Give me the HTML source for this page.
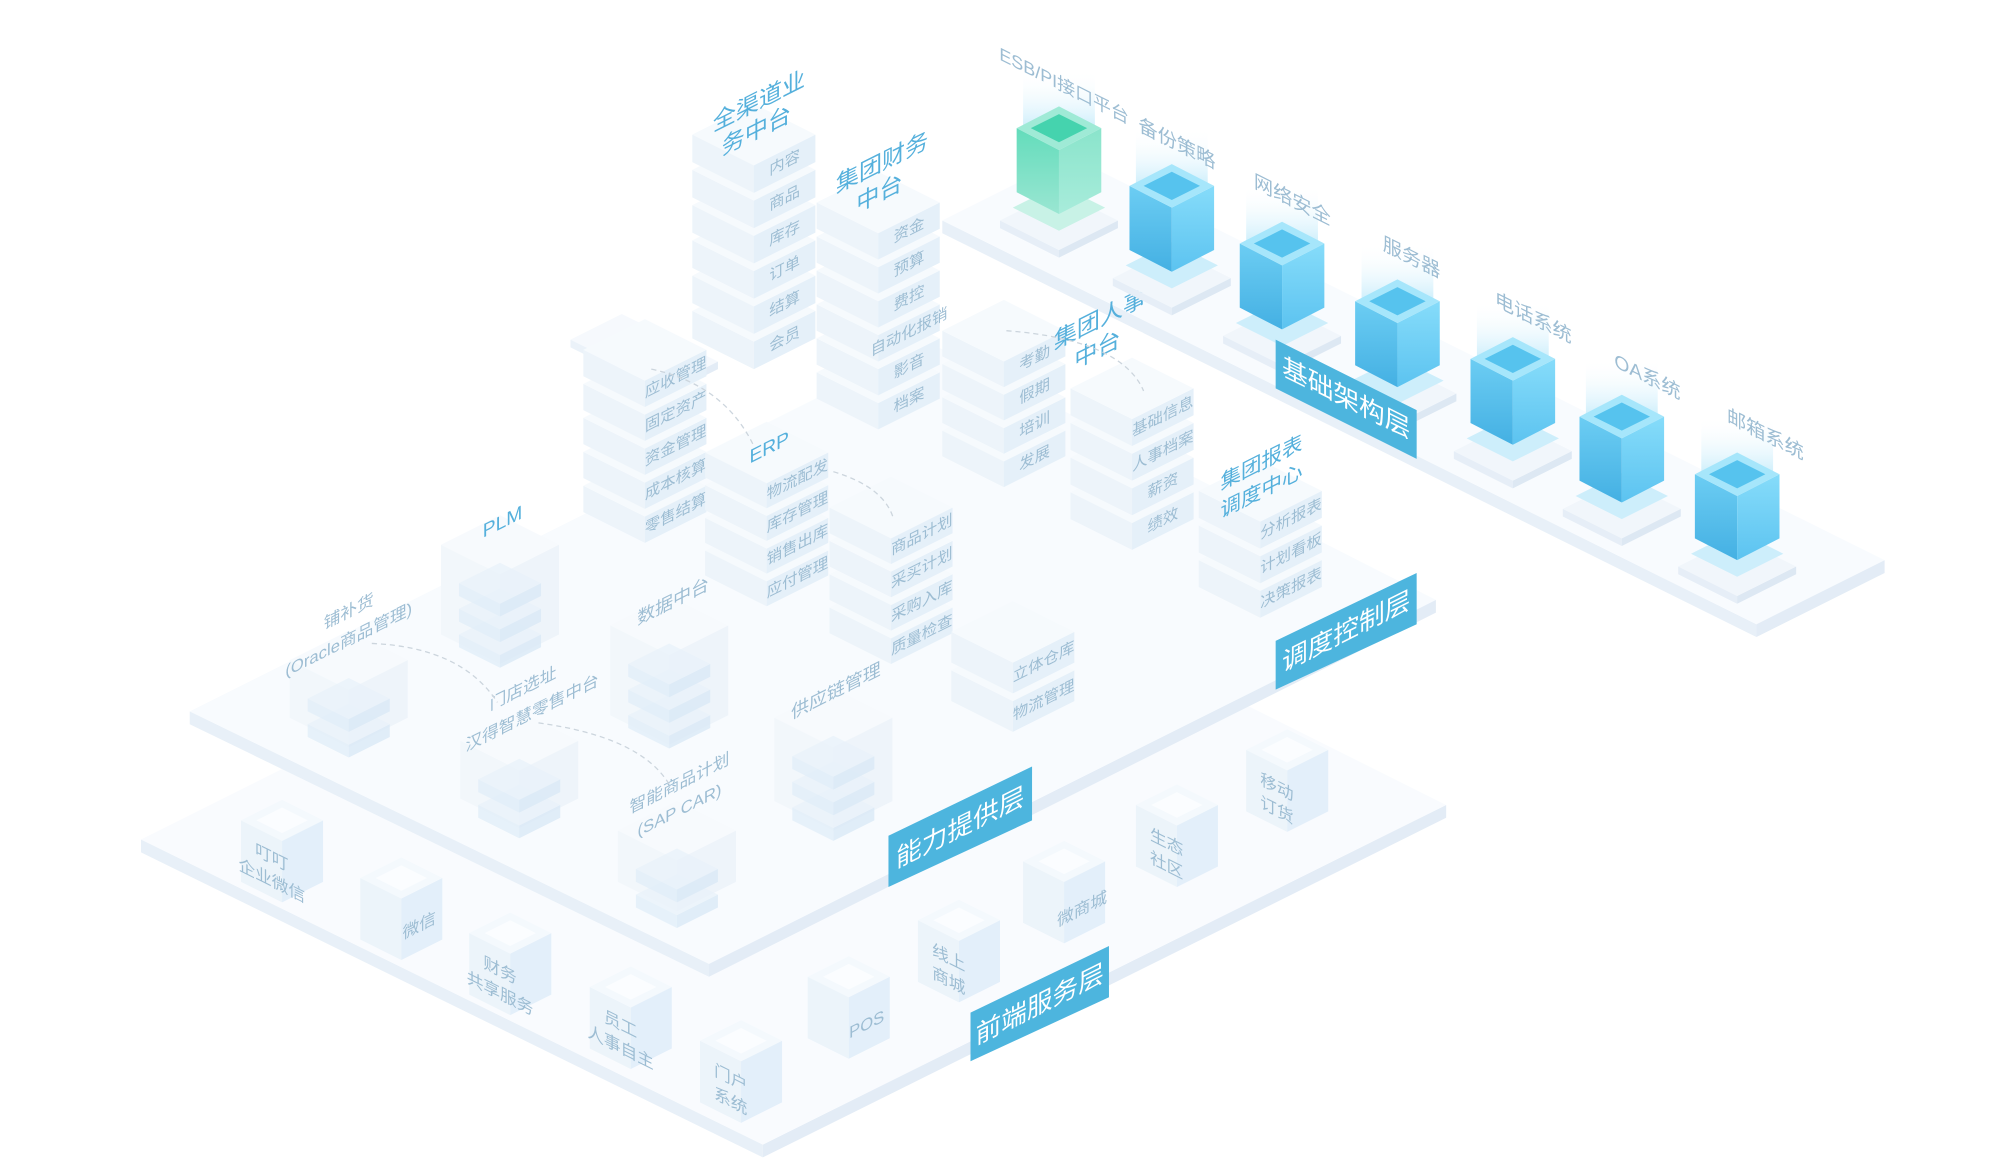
<!DOCTYPE html>
<html><head><meta charset="utf-8"><style>
html,body{margin:0;padding:0;background:#fff;width:2000px;height:1160px;overflow:hidden}
svg{display:block}
text{font-family:"Liberation Sans","Noto Sans CJK SC",sans-serif}
</style></head><body>
<svg id="s" width="2000" height="1160" viewBox="0 0 1560 905" preserveAspectRatio="none" xmlns="http://www.w3.org/2000/svg">
<defs>
<linearGradient id="bl" x1="0" y1="0" x2="0" y2="1"><stop offset="0" stop-color="#86dcfa"/><stop offset="1" stop-color="#5cc3f0"/></linearGradient>
<linearGradient id="br" x1="0" y1="0" x2="0" y2="1"><stop offset="0" stop-color="#6ccdf3"/><stop offset="1" stop-color="#44b0e3"/></linearGradient>
<linearGradient id="gl" x1="0" y1="0" x2="0" y2="1"><stop offset="0" stop-color="#63dcbb"/><stop offset="1" stop-color="#9ae6d2"/></linearGradient>
<linearGradient id="gr" x1="0" y1="0" x2="0" y2="1"><stop offset="0" stop-color="#8ae4cb"/><stop offset="1" stop-color="#a8ecdb"/></linearGradient>
<linearGradient id="glow" x1="0" y1="1" x2="0" y2="0"><stop offset="0" stop-color="#c6ecfb" stop-opacity="0.9"/><stop offset="1" stop-color="#fff" stop-opacity="0"/></linearGradient>
</defs>
<g id="g"></g>
</svg>
<script>
var G=document.getElementById('g'),NS='http://www.w3.org/2000/svg';
function el(t,a,txt){var e=document.createElementNS(NS,t);for(var k in a)e.setAttribute(k,a[k]);if(txt!=null)e.textContent=txt;G.appendChild(e);return e;}
function poly(p,f,o){el('polygon',{points:p.map(function(q){return q[0]+','+q[1]}).join(' '),fill:f,opacity:o==null?1:o});}
function box(cx,cy,hw,hh,h,top,l,r,o){
 poly([[cx-hw,cy],[cx,cy+hh],[cx,cy+hh+h],[cx-hw,cy+h]],l,o);
 poly([[cx,cy+hh],[cx+hw,cy],[cx+hw,cy+h],[cx,cy+hh+h]],r,o);
 poly([[cx-hw,cy],[cx,cy-hh],[cx+hw,cy],[cx,cy+hh]],top,o);
}
function txt(x,y,s,sk,size,col,w){el('text',{x:0,y:0,transform:'translate('+x+','+y+') skewY('+sk+')','text-anchor':'middle','dominant-baseline':'middle','font-size':size,fill:col,'font-weight':w||'normal'},s);}
function plat(L,B,R,T,th,top,edge){
 poly([L,B,[B[0],B[1]+th],[L[0],L[1]+th]],edge);
 poly([B,R,[R[0],R[1]+th],[B[0],B[1]+th]],'#e3ecf6');
 poly([L,B,R,T],top);
}
plat([110,655],[595,893],[1128,628],[646,387],10,'#f9fbfe','#e8f0f8');
plat([148,555],[553,752],[1120,468],[724,267],10,'#f8fbfe','#e8f0f8');
plat([735,172],[1370,487],[1470,437],[835,122],10,'#f8fbfe','#e8f0f8');
plat([445,265],[520,302],[560,282],[485,245],6,'#f6f9fd','#ebf2f9');

var TC='#9dbdd3',TT='#55b0dc';
var ST='#f6fafd',SL='#edf4fa',SR='#e5f0f9';
function stack(cx,y0,sp,labels){
 for(var i=labels.length-1;i>=0;i--){var y=y0+i*sp;box(cx,y,48,24,sp-6,ST,SL,SR);}
 for(var i=0;i<labels.length;i++){var y=y0+i*sp;txt(cx+24,y+12+(sp-6)/2,labels[i],-26.6,12,TC);}
}
stack(588,105,27.5,['内容','商品','库存','订单','结算','会员']);
txt(592,80,'全渠道业',-26.6,18,TT);txt(590,103,'务中台',-26.6,18,TT);
stack(685,158,26.5,['资金','预算','费控','自动化报销','影音','档案']);
txt(688,128,'集团财务',-26.6,18,TT);txt(686,152,'中台',-26.6,18,TT);
stack(503,273,26.5,['应收管理','固定资产','资金管理','成本核算','零售结算']);
stack(783,258,26,['考勤','假期','培训','发展']);
txt(858,250,'集团人事',-26.6,18,TT);txt(856,274,'中台',-26.6,18,TT);
stack(598,353,25.5,['物流配发','库存管理','销售出库','应付管理']);
txt(600,350,'ERP',-26.6,15,TT);
stack(883,303,27,['基础信息','人事档案','薪资','绩效']);
stack(695,396,26,['商品计划','采买计划','采购入库','质量检查']);
stack(983,383,27,['分析报表','计划看板','决策报表']);
txt(984,362,'集团报表',-26.6,16,TT);txt(984,384,'调度中心',-26.6,16,TT);
stack(790,493,30,['立体仓库','物流管理']);

function ghost(cx,ytop,h,n){
 box(cx,ytop,46,23,h,'#f6f9fd','#f1f6fb','#ecf3fa',0.9);
 for(var i=n-1;i>=0;i--){box(cx,ytop+30+i*20,32,16,10,'#e8f2fa','#e0edf8','#d8e8f5',0.75);}
}
ghost(390,425,70,3);txt(392,408,'PLM',-26.6,15,TT);
ghost(522,488,70,3);txt(525,470,'数据中台',-26.6,14,TC);
ghost(272,515,45,2);txt(272,478,'铺补货',-26.6,13,TC);txt(272,500,'(Oracle商品管理)',-26.6,13,TC);
ghost(405,578,45,2);txt(408,538,'门店选址',-26.6,13,TC);txt(415,557,'汉得智慧零售中台',-26.6,13,TC);
ghost(528,648,40,2);txt(530,612,'智能商品计划',-26.6,13,TC);txt(530,633,'(SAP CAR)',-26.6,13,TC);
ghost(650,560,65,3);txt(652,540,'供应链管理',-26.6,14,TC);

function dash(d){el('path',{d:d,fill:'none',stroke:'#ccd5dd','stroke-width':1,'stroke-dasharray':'4 3'});}
dash('M508,288 Q565,300 588,348');dash('M650,368 Q690,380 697,405');dash('M785,258 Q875,265 892,305');
dash('M290,502 Q360,505 388,548');dash('M420,564 Q500,575 522,612');

function fc(cx,cy,l1,l2){box(cx,cy,32,16,48,'#f4f9fd','#ecf4fa','#e3effa');
 poly([[cx-20,cy],[cx,cy-10],[cx+20,cy],[cx,cy+10]],'#fbfdff');
 if(l2){txt(cx-8,cy+30,l1,26.6,13,TC);txt(cx-8,cy+48,l2,26.6,13,TC);}else txt(cx+14,cy+38,l1,-26.6,13,TC);}
fc(220,640,'叮叮','企业微信');fc(313,685,'微信');fc(398,728,'财务','共享服务');fc(492,770,'员工','人事自主');fc(578,812,'门户','系统');
fc(662,762,'POS');fc(748,718,'线上','商城');fc(830,672,'微商城');fc(918,628,'生态','社区');fc(1004,585,'移动','订货');

function lab(p,tx,ty,sk,s){poly(p,'#4db5de');txt(tx,ty,s,sk,20,'#ffffff');}
lab([[693,652],[805,598],[805,640],[693,692]],749,647,-26.6,'能力提供层');
lab([[995,500],[1105,447],[1105,487],[995,538]],1050,494,-26.6,'调度控制层');
lab([[757,790],[865,738],[865,778],[757,828]],811,785,-26.6,'前端服务层');

var T=[[826,100,'ESB/PI接口平台',1],[914,145,'备份策略'],[1000,190,'网络安全'],[1090,235,'服务器'],[1180,280,'电话系统'],[1265,325,'OA系统'],[1355,370,'邮箱系统']];
T.forEach(function(t,i){var cx=t[0],cy=t[1];
 box(cx,cy+72,46,23,6,'#f1f6fb','#e6eef7','#dde8f3');
 poly([[cx-36,cy+62],[cx,cy+80],[cx+36,cy+62],[cx,cy+44]],t[3]?'#c8f2e6':'#cdeefb');
 el('rect',{x:cx-28,y:cy-45,width:56,height:45,fill:'url(#glow)'});
 box(cx,cy,33,17,50,t[3]?'#9fead6':'#a6e6fb',t[3]?'url(#gl)':'url(#br)',t[3]?'url(#gr)':'url(#bl)');
 poly([[cx-22,cy],[cx,cy-11],[cx+22,cy],[cx,cy+11]],t[3]?'#45d3ae':'#56c3ee');
});
lab([[995,265],[1105,320],[1105,358],[995,303]],1050,312,26.6,'基础架构层');
txt(830,68,'ESB/PI接口平台',26.6,14,TC);
txt(918,113,'备份策略',26.6,15,TC);txt(1008,157,'网络安全',26.6,15,TC);txt(1101,202,'服务器',26.6,15,TC);
txt(1196,249,'电话系统',26.6,15,TC);txt(1285,295,'OA系统',26.6,15,TC);txt(1377,340,'邮箱系统',26.6,15,TC);
</script>
</body></html>
